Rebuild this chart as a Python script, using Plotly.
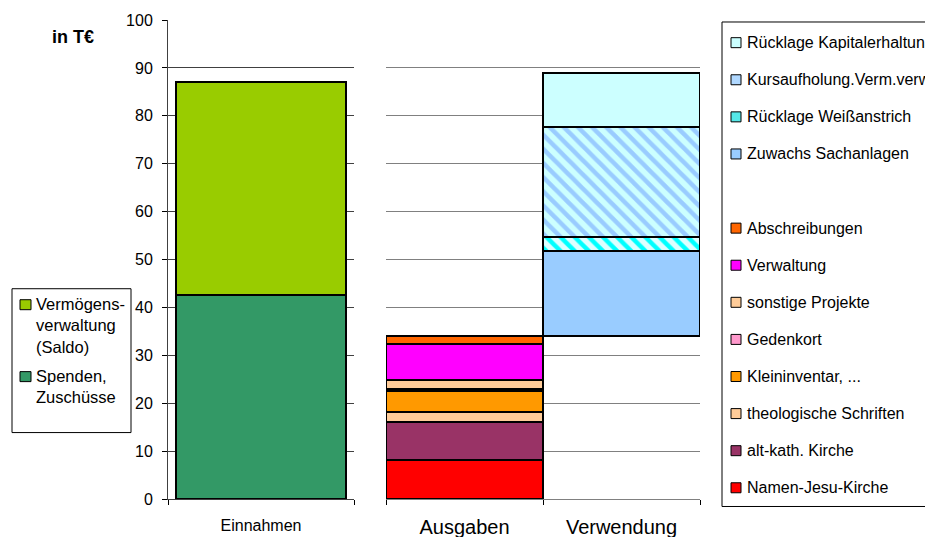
import plotly.graph_objects as go

# ---------------- data ----------------
einnahmen_cat = ["Einnahmen"]
einnahmen_names = ["Spenden,<br>Zuschüsse", "Vermögens-<br>verwaltung<br>(Saldo)"]
einnahmen_values = [42.6, 44.5]
einnahmen_colors = ["#339966", "#99CC00"]

ausgaben_cat = ["Ausgaben"]
ausgaben_names = ["Namen-Jesu-Kirche", "alt-kath. Kirche", "theologische Schriften",
                  "Kleininventar, ...", "Gedenkort", "sonstige Projekte",
                  "Verwaltung", "Abschreibungen"]
ausgaben_values = [8.2, 7.9, 2.0, 4.4, 0.5, 1.9, 7.5, 1.6]
ausgaben_colors = ["#FF0000", "#993366", "#FFCC99", "#FF9900", "#FF99CC",
                   "#FFCC99", "#FF00FF", "#FF6600"]

verwendung_cat = ["Verwendung"]
verwendung_names = ["Zuwachs Sachanlagen", "Rücklage Weißanstrich",
                    "Kursaufholung.Verm.verw.", "Rücklage Kapitalerhaltung"]
verwendung_values = [17.8, 2.9, 23.0, 11.2]
verwendung_colors = ["#99CCFF", "#DDFFFF", "#CCFFFF", "#CCFFFF"]
verwendung_pattern_fg = [None, "#00FFFF", "#99CCFF", None]
verwendung_legend_colors = ["#99CCFF", "#55E8E8", "#B0D8FF", "#CCFFFF"]

y_ticks = [0, 10, 20, 30, 40, 50, 60, 70, 80, 90, 100]

FONT = "Liberation Sans, Arial, sans-serif"
OUTLINE = dict(color="#000000", width=2)

fig = go.Figure()

# left panel: Einnahmen
for name, val, col in zip(einnahmen_names, einnahmen_values, einnahmen_colors):
    fig.add_trace(go.Bar(x=einnahmen_cat, y=[val], name=name, width=0.91,
                         marker=dict(color=col, line=OUTLINE),
                         xaxis="x", yaxis="y", showlegend=False))

# middle panel: Ausgaben
for name, val, col in zip(ausgaben_names, ausgaben_values, ausgaben_colors):
    fig.add_trace(go.Bar(x=ausgaben_cat, y=[val], name=name, width=1.0,
                         marker=dict(color=col, line=OUTLINE),
                         xaxis="x2", yaxis="y2", showlegend=False))

# invisible base for Verwendung (floats on top of total Ausgaben)
fig.add_trace(go.Bar(x=verwendung_cat, y=[sum(ausgaben_values)], width=1.0,
                     marker=dict(color="rgba(0,0,0,0)", line=dict(width=0)),
                     hoverinfo="skip", xaxis="x2", yaxis="y2", showlegend=False))

for name, val, col, fg in zip(verwendung_names, verwendung_values,
                              verwendung_colors, verwendung_pattern_fg):
    marker = dict(color=col, line=OUTLINE)
    if fg:
        marker["pattern"] = dict(shape="\\", fgcolor=fg, bgcolor=col,
                                 size=10, solidity=0.45, fillmode="replace")
    fig.add_trace(go.Bar(x=verwendung_cat, y=[val], name=name, width=1.0,
                         marker=marker, xaxis="x2", yaxis="y2", showlegend=False))

# ---------------- layout helpers ----------------
OFF = 8  # page offset of the figure inside the browser window
W, H = 925, 529
L, R, T, B = 160, 233, 12, 37.5
pw, ph = W - L - R, H - T - B


def fx(px):
    return (px - OFF - L) / pw


def fy(py):
    return (H - B - (py - OFF)) / ph


shapes = []
annotations = []

# right legend
right_items = [(n, c) for n, c in zip(verwendung_names[::-1], verwendung_legend_colors[::-1])]
right_items += [(None, None)]
right_items += [(n, c) for n, c in zip(ausgaben_names[::-1], ausgaben_colors[::-1])]
y0, step = 42.7, 37.13
shapes.append(dict(type="rect", xref="paper", yref="paper", x0=fx(722), x1=fx(990),
                   y0=fy(507), y1=fy(22), line=dict(color="#000", width=1),
                   fillcolor="rgba(0,0,0,0)", layer="above"))
for i, (n, c) in enumerate(right_items):
    if n is None:
        continue
    yc = y0 + i * step
    shapes.append(dict(type="rect", xref="paper", yref="paper", x0=fx(731), x1=fx(741),
                       y0=fy(yc + 5), y1=fy(yc - 5), fillcolor=c,
                       line=dict(color="#000", width=1), layer="above"))
    annotations.append(dict(text=n, xref="paper", yref="paper", x=fx(745), y=fy(yc),
                            xanchor="left", yanchor="middle", showarrow=False,
                            font=dict(size=16, color="#000", family=FONT)))

# left legend
shapes.append(dict(type="rect", xref="paper", yref="paper", x0=fx(12), x1=fx(131),
                   y0=fy(433), y1=fy(289), line=dict(color="#000", width=1),
                   fillcolor="rgba(0,0,0,0)", layer="above"))
left_sq = [305, 377]
left_txt = [325.5, 387]
for (n, c), ys, yt in zip(zip(einnahmen_names[::-1], einnahmen_colors[::-1]), left_sq, left_txt):
    shapes.append(dict(type="rect", xref="paper", yref="paper", x0=fx(20), x1=fx(31),
                       y0=fy(ys + 5), y1=fy(ys - 5), fillcolor=c,
                       line=dict(color="#000", width=1), layer="above"))
    annotations.append(dict(text=n, xref="paper", yref="paper", x=fx(34), y=fy(yt),
                            xanchor="left", yanchor="middle", align="left", showarrow=False,
                            font=dict(size=16.5, color="#000", family=FONT)))

# unit label
annotations.append(dict(text="<b>in T€</b>", xref="paper", yref="paper", x=fx(73), y=fy(37),
                        xanchor="center", yanchor="middle", showarrow=False,
                        font=dict(size=18, color="#000", family=FONT)))

fig.update_layout(
    width=W, height=H,
    margin=dict(l=L, r=R, t=T, b=B, pad=0, autoexpand=False),
    paper_bgcolor="white", plot_bgcolor="white",
    barmode="stack", bargap=0,
    font=dict(family=FONT, color="#000"),
    shapes=shapes, annotations=annotations,
    showlegend=False,
    xaxis=dict(domain=[0, fx(354)], anchor="y", type="category", range=[-0.5, 0.5],
               tickson="boundaries", ticks="outside", ticklen=5, tickcolor="#000",
               showline=True, linecolor="#404040", linewidth=1, automargin=False,
               tickfont=dict(size=16, family=FONT), ticklabelstandoff=12),
    yaxis=dict(domain=[0, 1], anchor="x", range=[0, 100], tickvals=y_ticks,
               ticks="outside", ticklen=5, tickcolor="#000", automargin=False,
               showline=True, linecolor="#404040", linewidth=1,
               showgrid=True, gridcolor="#404040", gridwidth=1, zeroline=False,
               tickfont=dict(size=16, family=FONT), ticklabelstandoff=6),
    xaxis2=dict(domain=[fx(386), 1], anchor="y2", type="category", range=[-0.5, 1.5],
                categoryorder="array", categoryarray=ausgaben_cat + verwendung_cat,
                tickson="boundaries", ticks="outside", ticklen=5, tickcolor="#000",
                showline=True, linecolor="#808080", linewidth=1, automargin=False,
                tickfont=dict(size=20, family=FONT), ticklabelstandoff=10),
    yaxis2=dict(domain=[0, 1], anchor="x2", range=[0, 100], tickvals=y_ticks,
                showticklabels=False, ticks="", showline=False, automargin=False,
                showgrid=True, gridcolor="#808080", gridwidth=1, zeroline=False),
)

fig.write_html("out.html")
